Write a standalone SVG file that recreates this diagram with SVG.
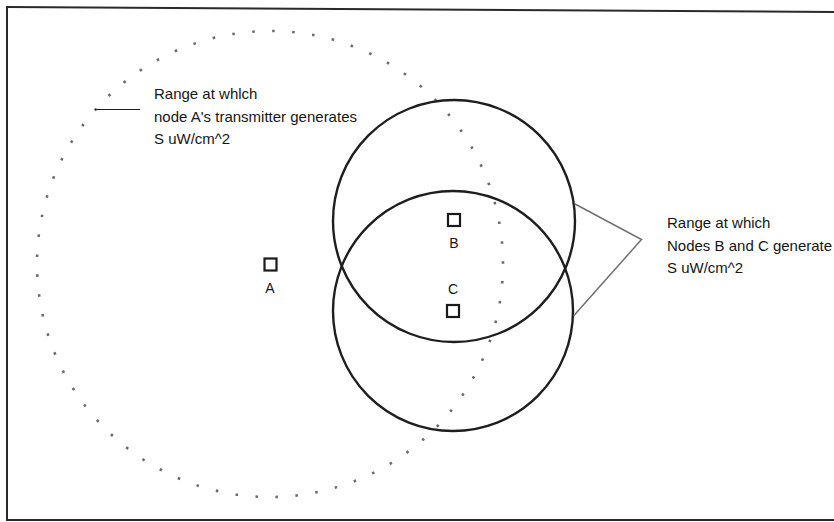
<svg xmlns="http://www.w3.org/2000/svg" width="834" height="522" viewBox="0 0 834 522">
<style>
.txt{font-family:"Liberation Sans",Arial,Helvetica,sans-serif;font-size:15px;fill:#161616}
.lbl{font-family:"Liberation Sans",Arial,Helvetica,sans-serif;font-size:14px;fill:#161616;text-anchor:middle}
.node{fill:#fff;stroke:#1a1a1a;stroke-width:2.2}
.range{fill:none;stroke:#1e1e1e;stroke-width:2.4}
.dotted{fill:none;stroke:#6a6a6a;stroke-width:2.6;stroke-dasharray:2.5 17.55;stroke-dashoffset:3}
.frame{fill:none;stroke:#2a2a2a;stroke-width:2}
</style>
<rect x="0" y="0" width="834" height="522" fill="#fff"/>
<g id="frame">
<line class="frame" x1="7" y1="7" x2="834" y2="12"/>
<line class="frame" x1="7" y1="6" x2="7" y2="521"/>
<line class="frame" x1="6" y1="520" x2="834" y2="520" stroke="#555"/>
</g>
<g id="rangeA">
<circle class="dotted" cx="270" cy="264" r="233"/>
</g>
<g id="rangeB">
<circle class="range" cx="454" cy="221" r="121"/>
</g>
<g id="rangeC">
<circle class="range" cx="453" cy="311" r="120"/>
</g>
<g id="nodeA">
<rect class="node" x="264.5" y="258.5" width="12" height="12"/>
<text class="lbl" x="270" y="293">A</text>
</g>
<g id="nodeB">
<rect class="node" x="448" y="214" width="12" height="12"/>
<text class="lbl" x="454" y="248">B</text>
</g>
<g id="nodeC">
<rect class="node" x="447" y="305" width="12" height="12"/>
<text class="lbl" x="453" y="294">C</text>
</g>
<g id="connectors">
<line x1="95" y1="109.5" x2="140" y2="109.5" stroke="#1a1a1a" stroke-width="1.2"/>
<polyline points="575,204 641.5,239.5 573.5,316" fill="none" stroke="#707070" stroke-width="1.5"/>
</g>
<g id="labelA">
<text class="txt" x="154" y="99">Range at whlch</text>
<text class="txt" x="154" y="122">node A's transmitter generates</text>
<text class="txt" x="154" y="144">S uW/cm^2</text>
</g>
<g id="labelBC">
<text class="txt" x="667" y="228">Range at which</text>
<text class="txt" x="667" y="250.5">Nodes B and C generate</text>
<text class="txt" x="667" y="272.5">S uW/cm^2</text>
</g>
</svg>
